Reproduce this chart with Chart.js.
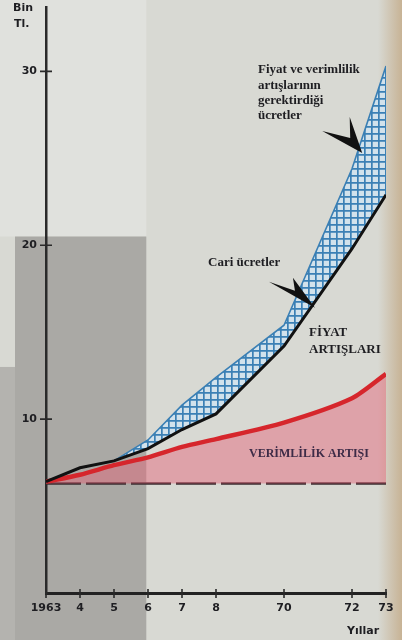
<!DOCTYPE html>
<html>
<head>
<meta charset="utf-8">
<script src="https://cdn.jsdelivr.net/npm/chart.js@4.4.1/dist/chart.umd.min.js"></script>
<style>
  html, body { margin: 0; padding: 0; background: #d8d9d3; }
  #wrap { width: 402px; height: 640px; }
</style>
</head>
<body>
<div id="wrap"><canvas id="ucretChart" width="402" height="640"></canvas></div>
<script>
const years = [1963, 1964, 1965, 1966, 1967, 1968, 1970, 1972, 1973];
const tickYears = [1963, 1964, 1965, 1966, 1967, 1968, 1970, 1972, 1973];
const tickYearLabels = ["1963", "4", "5", "6", "7", "8", "70", "72", "73"];
const valueTicks = [10, 20, 30];

// Bin TL
const cariUcretler = [6.4, 7.2, 7.6, 8.3, 9.4, 10.3, 14.2, 19.8, 22.9];
const gerekenUcretler = [6.4, 7.2, 7.6, 8.8, 10.8, 12.4, 15.4, 24.4, 30.3];
const verimlilikArtisi = [6.4, 6.8, 7.35, 7.8, 8.4, 8.85, 9.8, 11.2, 12.6];
const tabanYears = [1963, 1973];
const tabanUcret = [6.3, 6.3];

const toPoints = (xs, ys) => xs.map((x, i) => ({ x, y: ys[i] }));

const canvas = document.getElementById("ucretChart");

function makeHatch() {
  const c = document.createElement("canvas");
  c.width = 7;
  c.height = 7;
  const g = c.getContext("2d");
  g.fillStyle = "#d2e2ec";
  g.fillRect(0, 0, 7, 7);
  g.strokeStyle = "#3b80b5";
  g.lineWidth = 1.7;
  g.beginPath();
  g.moveTo(0, 0.85); g.lineTo(7, 0.85);
  g.moveTo(0.85, 0); g.lineTo(0.85, 7);
  g.stroke();
  return canvas.getContext("2d").createPattern(c, "repeat");
}

const SERIF = "bold 13px 'Liberation Serif', serif";
const SANS = "bold 11px 'DejaVu Sans', sans-serif";

const backdrop = {
  id: "backdrop",
  beforeDraw(chart) {
    const { ctx, width, height } = chart;
    const { x, y } = chart.scales;
    const grayRight = x.getPixelForValue(1965.95);
    const grayTop = y.getPixelForValue(20.5);
    ctx.save();
    ctx.fillStyle = "#d8d9d3";
    ctx.fillRect(0, 0, width, height);
    ctx.fillStyle = "#e0e1dd";
    ctx.fillRect(0, 0, grayRight, grayTop);
    ctx.fillStyle = "#aaa9a5";
    ctx.fillRect(15, grayTop, grayRight - 15, height - grayTop);
    ctx.fillStyle = "#b4b3af";
    ctx.fillRect(0, y.getPixelForValue(13), 15, height);
    const gr = ctx.createLinearGradient(width - 24, 0, width, 0);
    gr.addColorStop(0, "rgba(196,172,138,0)");
    gr.addColorStop(1, "rgba(196,172,138,0.85)");
    ctx.fillStyle = gr;
    ctx.fillRect(width - 24, 0, 24, height);
    ctx.restore();
  }
};

// chevron arrows: tip anchored to data coords, shape as offsets
const arrows = [
  { year: 1972.3, value: 25.3, shape: [[-40, -22], [-12, -15], [-12.5, -36]] },
  { year: 1970.91, value: 16.4, shape: [[-46, -26], [-20, -17], [-22, -30]] }
];

const labels = [
  { text: "Bin", x: 13, y: 8, font: SANS },
  { text: "Tl.", x: 14, y: 24, font: SANS },
  { text: "Fiyat ve verimlilik", x: 258, y: 70, font: SERIF },
  { text: "artışlarının", x: 258, y: 86, font: SERIF },
  { text: "gerektirdiği", x: 258, y: 101, font: SERIF },
  { text: "ücretler", x: 258, y: 116, font: SERIF },
  { text: "Cari ücretler", x: 208, y: 263, font: SERIF },
  { text: "FİYAT", x: 309, y: 333, font: SERIF },
  { text: "ARTIŞLARI", x: 309, y: 350, font: SERIF },
  { text: "VERİMLİLİK ARTIŞI", x: 249, y: 454, font: "bold 12px 'Liberation Serif', serif", color: "#3d2b47" },
  { text: "Yıllar", x: 347, y: 631, font: SANS }
];

const overlay = {
  id: "overlay",
  afterDraw(chart) {
    const { ctx, chartArea } = chart;
    const { x, y } = chart.scales;
    ctx.save();
    // tick crosses on both axes
    ctx.strokeStyle = "#2a2a2a";
    ctx.lineWidth = 1.6;
    ctx.beginPath();
    valueTicks.forEach((v) => {
      const py = y.getPixelForValue(v);
      ctx.moveTo(chartArea.left - 6, py);
      ctx.lineTo(chartArea.left + 6, py);
    });
    tickYears.forEach((yr) => {
      const px = x.getPixelForValue(yr);
      ctx.moveTo(px, chartArea.bottom - 4);
      ctx.lineTo(px, chartArea.bottom + 5);
    });
    ctx.stroke();

    ctx.fillStyle = "#111";
    arrows.forEach((a) => {
      const tx = x.getPixelForValue(a.year);
      const ty = y.getPixelForValue(a.value);
      const [b1, n, b2] = a.shape;
      ctx.beginPath();
      ctx.moveTo(tx, ty);
      ctx.lineTo(tx + b1[0], ty + b1[1]);
      ctx.lineTo(tx + n[0], ty + n[1]);
      ctx.lineTo(tx + b2[0], ty + b2[1]);
      ctx.closePath();
      ctx.fill();
    });

    ctx.textBaseline = "middle";
    ctx.textAlign = "left";
    labels.forEach((l) => {
      ctx.font = l.font;
      ctx.fillStyle = l.color || "#1e1e22";
      ctx.fillText(l.text, l.x, l.y);
    });
    ctx.restore();
  }
};

new Chart(canvas, {
  type: "line",
  data: {
    datasets: [
      {
        label: "Taban",
        data: toPoints(tabanYears, tabanUcret),
        borderColor: "#3a2d30",
        borderWidth: 2.5,
        borderDash: [40, 5],
        borderDashOffset: 5,
        pointRadius: 0,
        fill: false,
        order: 3
      },
      {
        label: "Verimlilik artışı",
        data: toPoints(years, verimlilikArtisi),
        borderColor: "#d6262c",
        borderWidth: 4.5,
        backgroundColor: "rgba(230, 96, 118, 0.45)",
        tension: 0.25,
        pointRadius: 0,
        fill: 0,
        order: 2
      },
      {
        label: "Cari ücretler",
        data: toPoints(years, cariUcretler),
        borderColor: "#111111",
        borderWidth: 3,
        pointRadius: 0,
        fill: false,
        order: 0
      },
      {
        label: "Fiyat ve verimlilik artışlarının gerektirdiği ücretler",
        data: toPoints(years, gerekenUcretler),
        borderColor: "#3a7fb4",
        borderWidth: 1.6,
        backgroundColor: makeHatch(),
        pointRadius: 0,
        fill: 2,
        order: 1
      }
    ]
  },
  options: {
    responsive: false,
    animation: false,
    events: [],
    layout: { padding: { top: 7, right: 16, left: 0, bottom: 0 } },
    plugins: {
      legend: { display: false },
      tooltip: { enabled: false }
    },
    scales: {
      x: {
        type: "linear",
        min: 1963,
        max: 1973,
        afterFit: (s) => { s.height = 47; s.paddingLeft = 0; s.paddingRight = 0; },
        afterBuildTicks: (s) => { s.ticks = tickYears.map((v) => ({ value: v })); },
        ticks: {
          autoSkip: false,
          maxRotation: 0,
          padding: 9,
          color: "#1e1e22",
          font: { family: "'DejaVu Sans', sans-serif", size: 11, weight: "bold" },
          callback: (v) => tickYearLabels[tickYears.indexOf(v)]
        },
        grid: { display: true, drawOnChartArea: false, drawTicks: false },
        border: { display: true, color: "#222", width: 3 }
      },
      y: {
        type: "linear",
        min: 0,
        max: 33.7,
        afterFit: (s) => { s.width = 46; s.paddingTop = 0; s.paddingBottom = 0; },
        afterBuildTicks: (s) => { s.ticks = valueTicks.map((v) => ({ value: v })); },
        ticks: {
          padding: 9,
          color: "#1e1e22",
          font: { family: "'DejaVu Sans', sans-serif", size: 11, weight: "bold" }
        },
        grid: { display: true, drawOnChartArea: false, drawTicks: false },
        border: { display: true, color: "#2a2a2a", width: 2.5 }
      }
    }
  },
  plugins: [backdrop, overlay]
});
</script>
</body>
</html>
